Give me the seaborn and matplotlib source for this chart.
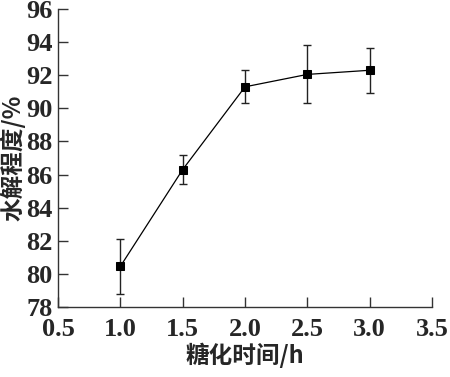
import matplotlib
matplotlib.use("Agg")
import matplotlib.pyplot as plt
import seaborn as sns
import pandas as pd

time_h = [1.0, 1.5, 2.0, 2.5, 3.0]
hydrolysis = [80.45, 86.3, 91.3, 92.05, 92.3]
err = [1.65, 0.9, 1.0, 1.75, 1.35]
xticks = [0.5, 1.0, 1.5, 2.0, 2.5, 3.0, 3.5]
yticks = [78, 80, 82, 84, 86, 88, 90, 92, 94, 96]

sns.set_theme(style="ticks")
plt.rcParams['font.family'] = ['Liberation Serif', 'Noto Sans CJK SC', 'DejaVu Sans']

df = pd.DataFrame({"t": time_h, "h": hydrolysis})
fig = plt.figure(figsize=(4.5, 3.77), dpi=100)
ax = fig.add_axes([0.129, 0.186, 0.831, 0.790])

ax.errorbar(time_h, hydrolysis, yerr=err, fmt='none', ecolor='#222222',
            elinewidth=1.0, capsize=3, capthick=1.0, zorder=2)
sns.lineplot(data=df, x="t", y="h", marker='s', markersize=6, color='black',
             linewidth=0.9, markeredgecolor='black', ax=ax, zorder=3)

ax.set_xlim(0.5, 3.5)
ax.set_ylim(78, 96)
ax.set_xticks(xticks)
ax.set_yticks(yticks)
tfont = dict(family='Liberation Serif', size=19, weight='bold')
ax.set_xticklabels([f"{v:.1f}" for v in xticks], fontdict=tfont)
ax.set_yticklabels([str(v) for v in yticks], fontdict=tfont)
ax.tick_params(direction='in', length=7, width=1, color='#333333', pad=4)
ax.tick_params(axis='x', pad=8)
for s in ['top', 'right']:
    ax.spines[s].set_visible(False)
for s in ['left', 'bottom']:
    ax.spines[s].set_color('#333333')
    ax.spines[s].set_linewidth(1)

ax.set_xlabel("糖化时间/h", fontsize=17, fontweight='bold',
              family=['Noto Sans CJK SC', 'DejaVu Sans'], labelpad=1)
ax.set_ylabel("水解程度/%", fontsize=17, fontweight='bold',
              family=['Noto Sans CJK SC', 'DejaVu Sans'], labelpad=0)

fig.savefig("out.png", dpi=100)
